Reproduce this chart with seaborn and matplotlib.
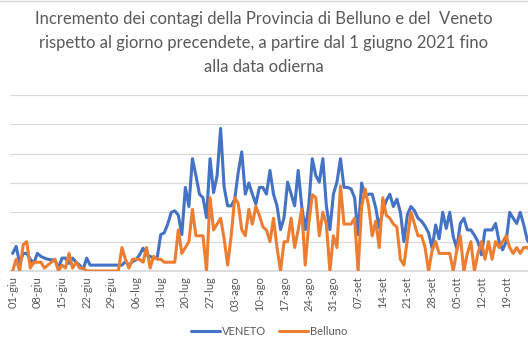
import matplotlib
matplotlib.use("Agg")
import matplotlib.pyplot as plt
from matplotlib.lines import Line2D
import seaborn as sns
import pandas as pd

sns.set_theme(style="white")
plt.rcParams['font.family'] = ['Lato', 'DejaVu Sans']

# incremento giornaliero dei contagi, dal 1 giugno 2021
veneto = [
    120, 168, 52, 120, 120, 80, 52,
    120, 100, 88, 80, 76, 76, 20,
    88, 88, 52, 88, 60, 40, 10,
    88, 40, 40, 40, 40, 40, 40,
    40, 40, 40, 40, 64, 40, 64,
    76, 110, 156, 110, 100, 88, 88,
    248, 260, 320, 400, 410, 380, 248,
    570, 440, 766, 650, 524, 500, 364,
    766, 534, 650, 972, 570, 444, 444,
    490, 674, 812, 524, 600, 524, 456,
    570, 570, 524, 686, 524, 444, 282,
    364, 606, 524, 444, 686, 444, 282,
    444, 766, 650, 606, 766, 444, 282,
    524, 606, 766, 570, 570, 560, 500,
    248, 600, 510, 524, 524, 432, 294,
    410, 480, 524, 440, 490, 400, 200,
    386, 440, 410, 360, 340, 306, 260,
    156, 314, 220, 400, 290, 400, 234,
    154, 324, 360, 280, 280, 244, 200,
    110, 280, 280, 280, 324, 200, 144,
    200, 400, 360, 324, 400, 314, 210,
    180,
]
belluno = [
    0, 4, 0, 9, 10, 1, 3,
    3, 3, 1, 2, 3, 4, 0,
    2, 1, 6, 1, 3, 1, 1,
    0, 0, 0, 0, 0, 0, 0,
    0, 0, 0, 8, 4, 1, 4,
    4, 4, 3, 8, 1, 5, 4,
    4, 3, 3, 3, 3, 14, 6,
    8, 10, 21, 12, 12, 12, 0,
    25, 14, 16, 18, 11, 2, 12,
    25, 23, 14, 12, 21, 16, 22,
    19, 15, 14, 10, 18, 8, 0,
    10, 10, 18, 8, 14, 21, 2,
    16, 26, 25, 12, 20, 16, 0,
    12, 8, 29, 16, 16, 16, 18,
    0, 22, 28, 22, 12, 17, 8,
    25, 19, 18, 16, 15, 4, 2,
    11, 20, 16, 12, 12, 8, 0,
    7, 10, 6, 6, 6, 6, 0,
    7, 12, 0, 6, 10, 0, 6,
    10, 4, 10, 4, 10, 8, 10,
    12, 8, 6, 8, 6, 8, 8,
    7,
]
dates = pd.date_range("2021-06-01", periods=len(veneto), freq="D")
mesi = {6: "giu", 7: "lug", 8: "ago", 9: "set", 10: "ott"}
tick_dates = dates[:146:7]
tick_labels = [f"{d.day:02d}-{mesi[d.month]}" for d in tick_dates]

df = pd.DataFrame({"data": dates, "VENETO": veneto, "Belluno": belluno})

blu = "#4472C4"
arancio = "#ED7D31"
grigio = "#595959"

fig = plt.figure(figsize=(5.28, 3.52), dpi=100)
ax = fig.add_axes([10 / 528, 81 / 352, 518 / 528, 176 / 352])
ax2 = ax.twinx()

sns.lineplot(data=df, x="data", y="VENETO", ax=ax, color=blu, lw=2.2, legend=False)
sns.lineplot(data=df, x="data", y="Belluno", ax=ax2, color=arancio, lw=2.2, legend=False)

ax.set_ylim(0, 1200)
ax2.set_ylim(0, 60)
ax.set_yticks(range(0, 1201, 200))
ax2.set_yticks([])
ax.set_xlim(dates[0] - pd.Timedelta(hours=18), dates[0] + pd.Timedelta(hours=146.2 * 24))
ax.set_xticks(tick_dates)
ax.set_xticklabels(tick_labels, rotation=90)
ax.set_xlabel("")
ax.set_ylabel("")
ax2.set_ylabel("")

ax.grid(axis="y", color="#D9D9D9", lw=0.9)
ax.grid(axis="x", visible=False)
for a in (ax, ax2):
    for s in a.spines.values():
        s.set_visible(False)
ax.spines["bottom"].set_visible(True)
ax.spines["bottom"].set_color("#D9D9D9")

ax.tick_params(axis="x", length=0, pad=4, labelsize=8, labelcolor=grigio)
# etichette dell'asse y quasi tutte fuori dall'immagine, come nell'originale
ax.tick_params(axis="y", length=0, pad=7, labelsize=8, labelcolor=grigio)

titolo = ("Incremento dei contagi della Provincia di Belluno e del  Veneto\n"
          "rispetto al giorno precendete, a partire dal 1 giugno 2021 fino\n"
          "alla data odierna")
fig.text(0.5, 1 - 43 / 352, titolo, ha="center", va="center", fontsize=12,
         color=grigio, linespacing=1.6)

handles = [Line2D([], [], color=blu, lw=2.2), Line2D([], [], color=arancio, lw=2.2)]
fig.legend(handles, ["VENETO", "Belluno"], loc="center", bbox_to_anchor=(0.51, 0.058),
           ncol=2, frameon=False, fontsize=8, handlelength=2.6, handletextpad=0.2,
           columnspacing=1.2, labelcolor=grigio)

fig.add_artist(Line2D([0, 1], [0.998, 0.998], color="#D9D9D9", lw=1))

fig.savefig("out.png", dpi=100)
